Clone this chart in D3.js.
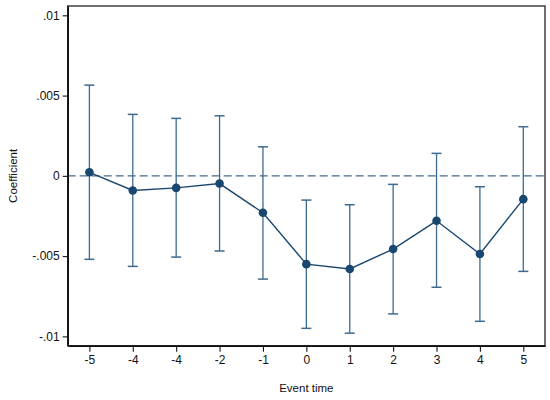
<!DOCTYPE html>
<html>
<head>
<meta charset="utf-8">
<script src="https://cdn.jsdelivr.net/npm/d3@7"></script>
<style>
  body { margin: 0; background: #fff; }
  text { font-family: "Liberation Sans", Arial, sans-serif; fill: #111; }
</style>
</head>
<body>
<script>
// event time labels (the second "-4" is how the original reads)
var eventLabels = ["-5", "-4", "-4", "-2", "-1", "0", "1", "2", "3", "4", "5"];
var coef  = [0.00022, -0.00091, -0.00075, -0.00048, -0.0023, -0.0055, -0.0058, -0.00456, -0.0028, -0.00487, -0.00145];
var upper = [0.00565, 0.00383, 0.00358, 0.00374, 0.00181, -0.00151, -0.0018, -0.00053, 0.0014, -0.00068, 0.00306];
var lower = [-0.0052, -0.00564, -0.00506, -0.00468, -0.00643, -0.0095, -0.0098, -0.0086, -0.00694, -0.00906, -0.00595];
var yTicks = [-0.01, -0.005, 0, 0.005, 0.01];
var yTickLabels = ["-.01", "-.005", "0", ".005", ".01"];

var W = 550, H = 400;
var margin = { left: 67.7, top: 6, right: 5, bottom: 54.3 };
var navy = "#1a476f";
var ciColor = "#3f6a8f";

var svg = d3.select("body").append("svg").attr("width", W).attr("height", H);

var x = d3.scaleLinear().domain([-0.5, eventLabels.length - 0.5]).range([margin.left, W - margin.right]);
var y = d3.scaleLinear().domain([-0.01058, 0.01058]).range([H - margin.bottom, margin.top]);

// plot region border
svg.append("rect")
  .attr("x", margin.left).attr("y", margin.top)
  .attr("width", W - margin.right - margin.left).attr("height", H - margin.bottom - margin.top)
  .style("fill", "none").style("stroke", "#222").style("stroke-width", 1.3);

// zero reference line
svg.append("line")
  .attr("x1", margin.left).attr("x2", W - margin.right)
  .attr("y1", y(0)).attr("y2", y(0))
  .style("stroke", "#46698a").style("stroke-width", 1.4).style("stroke-dasharray", "8,4");

// axes
var xAxis = d3.axisBottom(x)
  .tickValues(d3.range(eventLabels.length))
  .tickFormat(function(i){ return eventLabels[i]; })
  .tickSize(6).tickSizeOuter(0).tickPadding(4);
var gx = svg.append("g").attr("transform", "translate(0," + (H - margin.bottom) + ")").call(xAxis);

var yAxis = d3.axisLeft(y)
  .tickValues(yTicks)
  .tickFormat(function(d, i){ return yTickLabels[i]; })
  .tickSize(5).tickSizeOuter(0).tickPadding(3);
var gy = svg.append("g").attr("transform", "translate(" + margin.left + ",0)").call(yAxis);

[gx, gy].forEach(function(g){
  g.select(".domain").style("stroke", "#111").style("stroke-width", 1.6);
  g.selectAll(".tick line").style("stroke", "#111").style("stroke-width", 1.1);
  g.selectAll(".tick text").style("font-size", "12px").style("font-family", "Liberation Sans, Arial, sans-serif").style("fill", "#111");
});

// confidence intervals
var bars = svg.append("g");
var cap = 5;
eventLabels.forEach(function(l, i){
  bars.append("line")
    .attr("x1", x(i)).attr("x2", x(i)).attr("y1", y(upper[i])).attr("y2", y(lower[i]))
    .style("stroke", ciColor).style("stroke-width", 1.3);
  bars.append("line")
    .attr("x1", x(i) - cap).attr("x2", x(i) + cap).attr("y1", y(upper[i])).attr("y2", y(upper[i]))
    .style("stroke", ciColor).style("stroke-width", 1.5);
  bars.append("line")
    .attr("x1", x(i) - cap).attr("x2", x(i) + cap).attr("y1", y(lower[i])).attr("y2", y(lower[i]))
    .style("stroke", ciColor).style("stroke-width", 1.5);
});

// coefficient line and points
var line = d3.line().x(function(d, i){ return x(i); }).y(function(d){ return y(d); });
svg.append("path").datum(coef).attr("d", line)
  .style("fill", "none").style("stroke", navy).style("stroke-width", 1.4);

svg.append("g").selectAll("circle").data(coef).enter().append("circle")
  .attr("cx", function(d, i){ return x(i); })
  .attr("cy", function(d){ return y(d); })
  .attr("r", 4.3)
  .style("fill", navy);

// axis titles
svg.append("text")
  .attr("x", x(5)).attr("y", 392)
  .attr("text-anchor", "middle").style("font-size", "11.5px")
  .text("Event time");

svg.append("text")
  .attr("transform", "translate(17," + ((margin.top + H - margin.bottom) / 2) + ") rotate(-90)")
  .attr("text-anchor", "middle").style("font-size", "11.5px")
  .text("Coefficient");
</script>
</body>
</html>
